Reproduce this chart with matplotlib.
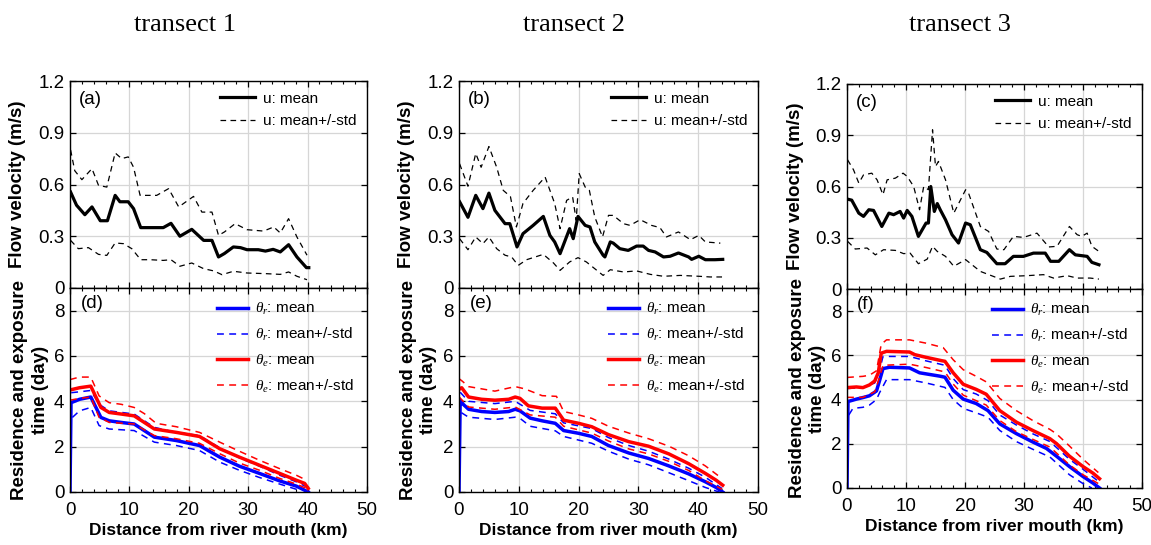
import matplotlib
matplotlib.use("Agg")
import matplotlib.pyplot as plt
from matplotlib.ticker import MultipleLocator, FuncFormatter

plt.rcParams['font.family'] = ['Liberation Sans', 'DejaVu Sans']
plt.rcParams['mathtext.fontset'] = 'custom'
plt.rcParams['mathtext.it'] = 'Liberation Serif:italic'
plt.rcParams['mathtext.rm'] = 'Liberation Sans'

# ---------------- transect 1 : flow velocity (m/s) ----------------
t1_u_x = [0.1, 1.1, 2.5, 3.7, 5.1, 6.3, 7.6, 8.4, 9.8, 10.7, 11.9, 15.7, 17.0, 18.5, 20.5, 22.5, 23.9,
          25.0, 26.0, 27.5, 28.7, 29.8, 31.7, 32.9, 34.2, 35.4, 36.8, 38.2, 39.8, 40.2]
t1_u_mean = [0.556, 0.48, 0.425, 0.47, 0.39, 0.39, 0.537, 0.50, 0.50, 0.46, 0.35, 0.35, 0.375, 0.30, 0.34,
             0.276, 0.276, 0.18, 0.20, 0.238, 0.234, 0.222, 0.222, 0.214, 0.224, 0.209, 0.251, 0.18, 0.118, 0.118]
t1_u_up_x = [0.1, 0.8, 2.0, 3.7, 4.8, 6.2, 7.6, 8.7, 9.8, 10.7, 11.8, 14.6, 16.6, 18.3, 20.8, 22.2, 23.9,
             25.0, 26.0, 27.8, 29.8, 32.6, 34.3, 35.4, 36.8, 38.2, 39.9]
t1_u_up = [0.80, 0.68, 0.628, 0.692, 0.595, 0.585, 0.783, 0.75, 0.76, 0.70, 0.537, 0.537, 0.576, 0.47, 0.531,
           0.44, 0.44, 0.305, 0.325, 0.373, 0.338, 0.33, 0.354, 0.319, 0.402, 0.296, 0.19]
t1_u_lo_x = [0.1, 1.4, 3.1, 4.8, 6.2, 7.6, 9.0, 10.4, 11.9, 13.5, 15.7, 17.0, 18.5, 20.5, 22.5, 24.2, 25.6,
             27.5, 29.8, 33.1, 35.4, 36.8, 38.2, 39.9]
t1_u_lo = [0.276, 0.228, 0.234, 0.195, 0.189, 0.261, 0.257, 0.228, 0.164, 0.164, 0.16, 0.164, 0.126, 0.145,
           0.112, 0.099, 0.077, 0.097, 0.087, 0.083, 0.079, 0.093, 0.068, 0.048]

# ---------------- transect 2 : flow velocity ----------------
t2_u_x = [0.1, 1.5, 2.8, 4.0, 5.0, 6.0, 7.7, 8.5, 9.7, 10.7, 12.4, 14.1, 15.2, 16.0, 16.9, 18.5, 19.1, 19.9,
          21.1, 21.9, 22.7, 24.1, 24.4, 25.3, 25.8, 26.9, 28.3, 29.7, 30.8, 31.7, 32.8, 34.2, 35.3, 36.7, 38.4,
          38.9, 40.1, 41.2, 42.8, 44.1]
t2_u_mean = [0.50, 0.41, 0.537, 0.46, 0.55, 0.45, 0.373, 0.373, 0.238, 0.315, 0.363, 0.415, 0.305, 0.267,
             0.199, 0.344, 0.286, 0.415, 0.363, 0.354, 0.267, 0.19, 0.18, 0.267, 0.26, 0.228, 0.218, 0.243,
             0.243, 0.218, 0.209, 0.18, 0.184, 0.203, 0.18, 0.166, 0.184, 0.164, 0.164, 0.166]
t2_u_up_x = [0.1, 1.5, 2.8, 3.7, 5.0, 6.3, 7.4, 8.6, 9.6, 10.7, 12.4, 14.4, 16.0, 16.9, 18.0, 19.0, 19.6,
             20.1, 21.1, 21.8, 22.7, 24.0, 25.0, 25.8, 27.5, 28.6, 30.3, 32.2, 33.6, 34.7, 36.7, 38.7, 40.1,
             41.2, 43.7]
t2_u_up = [0.72, 0.59, 0.78, 0.70, 0.82, 0.70, 0.566, 0.53, 0.354, 0.49, 0.566, 0.643, 0.49, 0.344, 0.508,
           0.528, 0.392, 0.663, 0.585, 0.566, 0.412, 0.296, 0.421, 0.421, 0.373, 0.363, 0.396, 0.363, 0.35,
           0.296, 0.325, 0.28, 0.305, 0.267, 0.26]
t2_u_lo_x = [0.1, 1.5, 2.8, 4.0, 5.0, 6.3, 7.7, 8.8, 9.9, 11.3, 14.1, 15.8, 16.9, 18.5, 19.9, 21.3, 22.7,
             24.1, 25.3, 27.5, 29.7, 32.0, 34.2, 37.0, 40.1, 42.0, 44.1]
t2_u_lo = [0.286, 0.222, 0.296, 0.257, 0.296, 0.228, 0.19, 0.18, 0.131, 0.164, 0.195, 0.145, 0.102, 0.151,
           0.176, 0.151, 0.112, 0.073, 0.106, 0.093, 0.099, 0.079, 0.068, 0.073, 0.068, 0.064, 0.064]

# ---------------- transect 3 : flow velocity ----------------
t3_u_x = [0.1, 0.8, 2.0, 2.8, 3.7, 4.5, 5.9, 7.1, 7.9, 9.0, 9.6, 10.2, 11.0, 12.1, 13.4, 13.8, 14.2, 14.8,
          15.3, 15.8, 16.7, 17.8, 18.9, 20.1, 20.9, 22.6, 23.7, 25.4, 26.8, 28.2, 29.9, 31.6, 33.6, 34.5, 35.9,
          37.7, 38.7, 40.7, 41.5, 42.7]
t3_u_mean = [0.526, 0.52, 0.444, 0.425, 0.464, 0.46, 0.366, 0.444, 0.435, 0.454, 0.415, 0.46, 0.425, 0.308,
             0.386, 0.386, 0.60, 0.454, 0.50, 0.464, 0.405, 0.318, 0.269, 0.386, 0.376, 0.23, 0.214, 0.148,
             0.148, 0.191, 0.191, 0.21, 0.21, 0.162, 0.162, 0.23, 0.20, 0.191, 0.156, 0.142]
t3_u_up_x = [0.1, 1.1, 2.0, 2.8, 4.2, 5.1, 6.1, 6.8, 8.2, 9.5, 10.2, 11.3, 12.3, 13.0, 13.8, 14.5, 15.0,
             15.5, 16.7, 18.1, 20.1, 20.6, 22.6, 24.0, 25.4, 26.6, 28.2, 29.9, 32.2, 34.2, 35.6, 37.7, 39.0,
             39.8, 40.7, 41.5, 42.7]
t3_u_up = [0.756, 0.698, 0.62, 0.668, 0.678, 0.639, 0.552, 0.639, 0.649, 0.678, 0.659, 0.60, 0.464, 0.60,
           0.581, 0.932, 0.717, 0.747, 0.639, 0.444, 0.581, 0.561, 0.366, 0.337, 0.234, 0.23, 0.308, 0.302,
           0.327, 0.246, 0.25, 0.366, 0.318, 0.308, 0.327, 0.25, 0.22]
t3_u_lo_x = [0.1, 1.4, 3.4, 4.8, 6.2, 8.2, 9.6, 10.7, 12.1, 13.6, 14.5, 15.3, 16.7, 18.1, 20.1, 22.6, 26.0,
             27.7, 30.5, 33.3, 35.0, 37.3, 39.0, 41.2, 42.7]
t3_u_lo = [0.279, 0.234, 0.24, 0.20, 0.23, 0.226, 0.207, 0.21, 0.148, 0.175, 0.25, 0.22, 0.191, 0.133, 0.172,
           0.103, 0.058, 0.074, 0.078, 0.084, 0.064, 0.078, 0.064, 0.064, 0.058]

# ---------------- transect 1 : residence / exposure time (day) ----------------
t1_r_x = [0, 0.17, 1.6, 3.5, 5.2, 6.6, 8.6, 10.8, 12.5, 14.2, 17.9, 21.8, 25.2, 28.5, 31.9, 35.3, 38.1, 40.1]
t1_r_mean = [0, 3.94, 4.09, 4.19, 3.29, 3.14, 3.07, 3.0, 2.71, 2.42, 2.27, 2.05, 1.54, 1.14, 0.82, 0.49, 0.26, 0.0]
t1_r_up_x = [0.2, 1.6, 3.5, 4.9, 6.6, 10.8, 14.2, 17.9, 21.8, 25.2, 28.5, 31.9, 35.3, 38.1, 39.8]
t1_r_up = [4.38, 4.42, 4.48, 3.87, 3.58, 3.44, 2.85, 2.63, 2.49, 1.95, 1.51, 1.14, 0.74, 0.45, 0.23]
t1_r_lo_x = [0.4, 1.6, 3.5, 4.9, 6.6, 10.8, 14.2, 17.9, 21.8, 25.2, 28.5, 31.9, 35.3, 38.1, 38.9]
t1_r_lo = [3.29, 3.58, 3.73, 2.93, 2.78, 2.71, 2.20, 2.05, 1.83, 1.32, 0.96, 0.64, 0.35, 0.12, 0.01]
t1_e_x = [0, 1.6, 3.5, 5.2, 6.6, 8.6, 10.8, 12.5, 14.2, 17.9, 21.8, 25.2, 28.5, 31.9, 35.3, 38.1, 39.5, 40.1]
t1_e_mean = [4.5, 4.6, 4.67, 3.73, 3.51, 3.44, 3.36, 3.07, 2.78, 2.63, 2.45, 1.91, 1.54, 1.18, 0.82, 0.52, 0.38, 0.16]
t1_e_up_x = [0, 1.6, 3.5, 4.9, 6.6, 8.6, 10.8, 12.5, 14.5, 17.9, 21.8, 25.2, 28.5, 31.9, 35.3, 38.1, 39.8]
t1_e_up = [4.96, 5.07, 5.07, 4.24, 3.94, 3.87, 3.73, 3.46, 3.03, 2.88, 2.63, 2.20, 1.80, 1.40, 1.03, 0.74, 0.52]
t1_e_lo_x = [0, 1.6, 3.5, 4.9, 6.6, 10.8, 14.2, 17.9, 21.8, 25.2, 28.5, 31.9, 35.3, 38.1, 39.8]
t1_e_lo = [4.05, 4.13, 4.19, 3.29, 3.07, 3.0, 2.49, 2.35, 2.15, 1.69, 1.28, 0.96, 0.60, 0.35, 0.16]

# ---------------- transect 2 : residence / exposure time ----------------
t2_r_x = [0, 0.2, 0.7, 1.6, 3.8, 6.0, 8.3, 9.4, 10.2, 11.9, 13.9, 16.1, 17.5, 20.0, 22.2, 25.0, 28.4, 31.7,
          35.1, 38.4, 41.2, 43.0, 44.1]
t2_r_mean = [0, 4.05, 3.87, 3.65, 3.55, 3.51, 3.55, 3.65, 3.58, 3.26, 3.14, 3.03, 2.71, 2.59, 2.45, 2.05,
             1.72, 1.48, 1.15, 0.80, 0.45, 0.2, 0.0]
t2_r_up_x = [0.2, 1.6, 6.0, 9.4, 11.9, 16.1, 17.5, 22.2, 25.0, 28.4, 31.7, 35.1, 38.4, 41.2, 44.0]
t2_r_up = [4.4, 4.0, 3.9, 4.0, 3.6, 3.45, 3.05, 2.8, 2.4, 2.05, 1.8, 1.45, 1.05, 0.65, 0.15]
t2_r_lo_x = [0.4, 1.6, 6.0, 9.4, 10.2, 11.9, 16.1, 17.5, 22.2, 25.0, 28.4, 31.7, 35.1, 38.4, 41.2, 43.5]
t2_r_lo = [3.5, 3.3, 3.2, 3.3, 3.25, 2.9, 2.7, 2.45, 2.15, 1.8, 1.45, 1.2, 0.85, 0.5, 0.2, 0.0]
t2_e_x = [0, 0.45, 1.6, 3.8, 6.0, 8.3, 9.4, 10.2, 11.6, 13.9, 16.1, 17.5, 20.0, 22.2, 25.0, 28.4, 31.7, 35.1,
          38.4, 41.2, 43.0, 44.1]
t2_e_mean = [4.53, 4.6, 4.19, 4.09, 4.05, 4.09, 4.19, 4.13, 3.80, 3.70, 3.70, 3.17, 3.03, 2.88, 2.53, 2.22,
             2.02, 1.68, 1.25, 0.82, 0.52, 0.3]
t2_e_up_x = [0, 0.5, 1.6, 6.0, 9.4, 11.0, 13.9, 16.3, 17.5, 20.0, 22.2, 25.0, 28.4, 31.7, 35.1, 38.4, 41.2, 43.7]
t2_e_up = [5.0, 4.9, 4.65, 4.45, 4.65, 4.55, 4.25, 4.22, 3.55, 3.4, 3.25, 2.9, 2.6, 2.35, 2.02, 1.6, 1.15, 0.65]
t2_e_lo_x = [0, 1.6, 6.0, 9.4, 11.9, 16.1, 17.5, 22.2, 25.0, 28.4, 31.7, 35.1, 38.4, 41.2, 44.0]
t2_e_lo = [4.2, 3.75, 3.65, 3.75, 3.4, 3.3, 2.9, 2.6, 2.25, 1.9, 1.68, 1.35, 0.95, 0.5, 0.12]

# ---------------- transect 3 : residence / exposure time ----------------
t3_r_x = [0, 0.17, 1.6, 2.7, 3.8, 5.0, 5.5, 6.1, 7.2, 10.6, 12.3, 15.7, 16.6, 18.0, 19.7, 21.9, 23.9, 25.9,
          28.7, 31.5, 33.8, 35.5, 37.7, 40.0, 41.7, 42.8]
t3_r_mean = [0, 3.91, 4.02, 4.09, 4.17, 4.39, 4.84, 5.40, 5.46, 5.43, 5.21, 5.06, 5.01, 4.42, 4.02, 3.82,
             3.50, 2.90, 2.46, 2.08, 1.79, 1.44, 0.97, 0.52, 0.22, 0.0]
t3_r_up_x = [0.2, 2.7, 4.7, 5.5, 6.1, 10.6, 13.4, 16.6, 18.0, 19.7, 21.9, 23.9, 25.9, 28.7, 31.5, 34.4, 37.7,
             40.0, 42.6]
t3_r_up = [4.5, 4.55, 4.75, 5.3, 5.95, 5.95, 5.75, 5.55, 4.95, 4.45, 4.25, 3.95, 3.3, 2.85, 2.45, 2.1, 1.3,
           0.85, 0.3]
t3_r_lo_x = [0.3, 1.0, 2.7, 3.8, 5.0, 5.5, 6.7, 10.6, 13.4, 16.6, 18.0, 19.7, 21.9, 23.9, 25.9, 28.7, 31.5,
             34.4, 37.7, 40.0, 41.5]
t3_r_lo = [3.3, 3.6, 3.65, 3.75, 4.0, 4.3, 4.9, 4.9, 4.75, 4.55, 4.0, 3.6, 3.4, 3.2, 2.6, 2.1, 1.75, 1.4,
           0.6, 0.2, 0.0]
t3_e_x = [0, 1.6, 2.7, 3.8, 4.7, 5.3, 5.8, 6.7, 10.6, 11.5, 13.4, 16.0, 16.6, 18.0, 19.7, 21.9, 23.6, 25.9,
          28.7, 31.5, 34.4, 35.5, 37.7, 40.0, 41.7, 42.8]
t3_e_mean = [4.54, 4.57, 4.54, 4.66, 4.84, 5.21, 6.10, 6.18, 6.15, 6.03, 5.91, 5.76, 5.73, 5.21, 4.69, 4.46,
             4.24, 3.50, 2.98, 2.60, 2.23, 2.01, 1.44, 0.97, 0.67, 0.42]
t3_e_up_x = [0, 2.7, 3.8, 5.0, 5.8, 6.7, 10.6, 13.4, 16.3, 18.0, 19.7, 21.9, 23.6, 25.9, 28.7, 31.5, 34.4,
             35.5, 37.7, 40.0, 42.6]
t3_e_up = [5.0, 5.05, 5.1, 5.3, 6.5, 6.7, 6.7, 6.55, 6.35, 5.8, 5.35, 5.05, 4.8, 4.05, 3.5, 3.05, 2.65, 2.45,
           1.9, 1.3, 0.7]
t3_e_lo_x = [0, 2.7, 4.7, 5.5, 6.1, 10.6, 13.4, 16.6, 18.0, 19.7, 21.9, 23.6, 25.9, 28.7, 31.5, 34.4, 37.7,
             40.0, 42.6]
t3_e_lo = [4.1, 4.1, 4.35, 5.0, 5.55, 5.6, 5.45, 5.25, 4.7, 4.2, 3.95, 3.75, 3.05, 2.55, 2.2, 1.85, 1.05,
           0.6, 0.2]

titles = ['transect 1', 'transect 2', 'transect 3']
letters_top = ['(a)', '(b)', '(c)']
letters_bot = ['(d)', '(e)', '(f)']

W, H = 1151, 545
fig = plt.figure(figsize=(W / 100, H / 100), dpi=100)

# axes boxes in pixels: left, right, top, middle, bottom
boxes = [(70, 367, 81, 288, 492), (459, 758, 81, 288, 492), (847, 1142, 84, 289, 488)]
title_x = [185, 574, 960]

u_data = [
    (t1_u_x, t1_u_mean, t1_u_up_x, t1_u_up, t1_u_lo_x, t1_u_lo),
    (t2_u_x, t2_u_mean, t2_u_up_x, t2_u_up, t2_u_lo_x, t2_u_lo),
    (t3_u_x, t3_u_mean, t3_u_up_x, t3_u_up, t3_u_lo_x, t3_u_lo),
]
t_data = [
    (t1_r_x, t1_r_mean, t1_r_up_x, t1_r_up, t1_r_lo_x, t1_r_lo, t1_e_x, t1_e_mean, t1_e_up_x, t1_e_up, t1_e_lo_x, t1_e_lo),
    (t2_r_x, t2_r_mean, t2_r_up_x, t2_r_up, t2_r_lo_x, t2_r_lo, t2_e_x, t2_e_mean, t2_e_up_x, t2_e_up, t2_e_lo_x, t2_e_lo),
    (t3_r_x, t3_r_mean, t3_r_up_x, t3_r_up, t3_r_lo_x, t3_r_lo, t3_e_x, t3_e_mean, t3_e_up_x, t3_e_up, t3_e_lo_x, t3_e_lo),
]

fmt = FuncFormatter(lambda v, p: f'{v:g}')
dash = (4.5, 3.5)


def style(ax):
    ax.set_xlim(0, 50)
    ax.xaxis.set_major_locator(MultipleLocator(10))
    ax.xaxis.set_minor_locator(MultipleLocator(2))
    ax.yaxis.set_major_formatter(fmt)
    ax.tick_params(which='both', direction='in', top=True, right=True, labelsize=13.5)
    ax.tick_params(which='major', length=4, width=0.9)
    ax.tick_params(which='minor', length=2.2, width=0.8)
    ax.tick_params(axis='x', pad=7)
    ax.tick_params(axis='y', pad=4)
    ax.grid(True, which='major', color='#d6d6d6', linewidth=0.9)
    ax.set_axisbelow(True)
    for s in ax.spines.values():
        s.set_linewidth(1.0)


for i in range(3):
    l, r, top, mid, bot = boxes[i]
    ax1 = fig.add_axes([l / W, 1 - mid / H, (r - l) / W, (mid - top) / H])
    ax2 = fig.add_axes([l / W, 1 - bot / H, (r - l) / W, (bot - mid) / H])

    ux, um, upx, up, lox, lo = u_data[i]
    ax1.plot(ux, um, color='black', lw=2.3, label='u: mean')
    ax1.plot(upx, up, color='black', lw=0.9, dashes=dash, label='u: mean+/-std')
    ax1.plot(lox, lo, color='black', lw=0.9, dashes=dash)
    style(ax1)
    ax1.set_ylim(0, 1.2)
    ax1.yaxis.set_major_locator(MultipleLocator(0.3))
    ax1.tick_params(labelbottom=False)
    ax1.set_ylabel('Flow velocity (m/s)', fontsize=13.5, fontweight='bold')
    ax1.yaxis.set_label_coords(-0.147, 0.5)
    ax1.text(0.03, 0.95, letters_top[i], transform=ax1.transAxes, fontsize=13.5, va='top', ha='left')
    ax1.legend(loc='upper right', frameon=False, fontsize=11, handlelength=2.3, handletextpad=0.5,
               labelspacing=0.55, borderaxespad=0.3)

    (rx, rm, rux, ru, rlx, rl, ex, em, eux, eu, elx, el) = t_data[i]
    ax2.plot(rx, rm, color='blue', lw=2.5, label=r'$\theta_r$: mean')
    ax2.plot(rux, ru, color='blue', lw=1.1, dashes=dash, label=r'$\theta_r$: mean+/-std')
    ax2.plot(rlx, rl, color='blue', lw=1.1, dashes=dash)
    ax2.plot(ex, em, color='red', lw=2.5, label=r'$\theta_e$: mean')
    ax2.plot(eux, eu, color='red', lw=1.1, dashes=dash, label=r'$\theta_e$: mean+/-std')
    ax2.plot(elx, el, color='red', lw=1.1, dashes=dash)
    style(ax2)
    ax2.set_ylim(0, 9)
    ax2.yaxis.set_major_locator(MultipleLocator(2))
    ax2.set_xlabel('Distance from river mouth (km)', fontsize=12.5, fontweight='bold', labelpad=3)
    ax2.set_ylabel('Residence and exposure\ntime (day)', fontsize=13.5, fontweight='bold', linespacing=1.25)
    ax2.yaxis.set_label_coords(-0.072, 0.5)
    ax2.text(0.035, 0.965, letters_bot[i], transform=ax2.transAxes, fontsize=13.5, va='top', ha='left')
    ax2.legend(loc='upper right', frameon=False, fontsize=11, handlelength=2.0, handletextpad=0.5,
               labelspacing=0.6, borderaxespad=0.45)

    fig.text(title_x[i] / W, 1 - 25 / H, titles[i], ha='center', va='center',
             family=['Liberation Serif', 'DejaVu Serif'], fontsize=19)

fig.savefig('out.png', dpi=100)
